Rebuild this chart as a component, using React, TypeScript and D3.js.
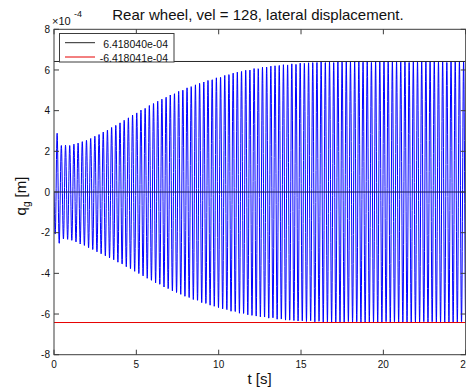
import React from 'react';
import * as d3 from 'd3';

const W = 466;
const H = 392;

// axis ticks
const xTicks = [0, 5, 10, 15, 20, 25];
const yTicks = [-8, -6, -4, -2, 0, 2, 4, 6, 8];

// envelope of the lateral displacement (units of 1e-4 m)
const envT = [0, 0.15, 0.4, 1, 2, 3, 4, 5, 6, 7, 8, 9, 10, 11, 12, 13, 14, 15, 16, 17, 18, 20, 25];
const envUpper = [1.0, 3.0, 2.3, 2.3, 2.55, 2.95, 3.4, 3.9, 4.35, 4.75, 5.1, 5.4, 5.65, 5.88, 6.05, 6.18, 6.27, 6.34, 6.39, 6.41, 6.42, 6.42, 6.42];
const envLower = [-1.3, -3.0, -2.3, -2.35, -2.7, -3.1, -3.5, -3.95, -4.4, -4.8, -5.15, -5.45, -5.7, -5.92, -6.08, -6.2, -6.3, -6.36, -6.39, -6.41, -6.42, -6.42, -6.42];
const oscFreq = 3.93; // Hz, read from stripe spacing
const sampleStep = 0.01; // s

// limit lines and legend
const legendLabels = ['6.418040e-04', '-6.418041e-04'];
const limitValues = [6.41804, -6.418041];
const limitColors = ['#262626', '#e60000'];

const FONT = 'Liberation Sans, Arial, Helvetica, sans-serif';

export default function App() {
  const x = d3.scaleLinear().domain([0, 25]).range([54, 465.7]);
  const y = d3.scaleLinear().domain([-8, 8]).range([354.7, 29.3]);
  const up = d3.scaleLinear().domain(envT).range(envUpper);
  const lo = d3.scaleLinear().domain(envT).range(envLower);

  const samples: [number, number][] = [];
  for (let t = 0; t <= 25.0001; t += sampleStep) {
    const s = -Math.sin(2 * Math.PI * oscFreq * t);
    const v = s >= 0 ? up(t) * s : -lo(t) * s;
    samples.push([t, v]);
  }
  const line = d3.line<[number, number]>().x(d => x(d[0])).y(d => y(d[1]));

  const x0 = x(0), x1 = x(25), yTop = y(8), yBot = y(-8);
  const axisColor = '#3c3c3c';
  const tickLen = 5;

  return (
    <svg width={W} height={H} style={{ position: 'fixed', left: 0, top: 0, background: '#fff' }}
      fontFamily={FONT}>
      <rect x={0} y={0} width={W} height={H} fill="#fff" />
      <defs>
        <clipPath id="plotClip">
          <rect x={x0} y={yTop} width={x1 - x0} height={yBot - yTop} />
        </clipPath>
      </defs>
      <g clipPath="url(#plotClip)">
        <path d={line(samples) || ''} fill="none" stroke="#0000ff" strokeWidth={1} />
        <line x1={x0} x2={x1} y1={y(0)} y2={y(0)} stroke="#1c1c60" strokeWidth={1.2} />
        {limitValues.map((v, i) => (
          <line key={i} x1={x0} x2={x1} y1={y(v)} y2={y(v)} stroke={limitColors[i]} strokeWidth={1} />
        ))}
      </g>
      {/* axes box */}
      <rect x={x0} y={yTop} width={x1 - x0} height={yBot - yTop} fill="none" stroke={axisColor} strokeWidth={1} />
      {xTicks.map(t => (
        <g key={'xt' + t}>
          <line x1={x(t)} x2={x(t)} y1={yBot} y2={yBot - tickLen} stroke={axisColor} />
          <line x1={x(t)} x2={x(t)} y1={yTop} y2={yTop + tickLen} stroke={axisColor} />
          <text x={x(t)} y={368} fontSize={10} textAnchor="middle" fill="#111">{t}</text>
        </g>
      ))}
      {yTicks.map(t => (
        <g key={'yt' + t}>
          <line x1={x0} x2={x0 + tickLen} y1={y(t)} y2={y(t)} stroke={axisColor} />
          <line x1={x1} x2={x1 - tickLen} y1={y(t)} y2={y(t)} stroke={axisColor} />
          <text x={50} y={y(t) + 3.6} fontSize={10} textAnchor="end" fill="#111">{t}</text>
        </g>
      ))}
      {/* exponent */}
      <text x={52} y={25} fontSize={11} fill="#111">×10</text>
      <text x={74} y={17} fontSize={9} fill="#111">-4</text>
      {/* title */}
      <text x={258} y={20} fontSize={15} textAnchor="middle" fill="#111">Rear wheel, vel = 128, lateral displacement.</text>
      {/* x label */}
      <text x={259.5} y={384} fontSize={15} textAnchor="middle" fill="#111">t [s]</text>
      {/* y label */}
      <text transform={`translate(26, 196) rotate(-90)`} fontSize={15} textAnchor="middle" fill="#111">
        q<tspan fontSize={10} dy={4}>g</tspan><tspan dy={-4}> [m]</tspan>
      </text>
      {/* legend */}
      <rect x={59.5} y={33.5} width={114.5} height={28.5} fill="#fff" stroke={axisColor} strokeWidth={1} />
      {legendLabels.map((lab, i) => (
        <g key={lab}>
          <line x1={65} x2={95} y1={42.7 + i * 14.3} y2={42.7 + i * 14.3} stroke={limitColors[i]} strokeWidth={1} />
          <text x={168} y={47.8 + i * 14.3} fontSize={10.5} textAnchor="end" fill="#111">{lab}</text>
        </g>
      ))}
    </svg>
  );
}
